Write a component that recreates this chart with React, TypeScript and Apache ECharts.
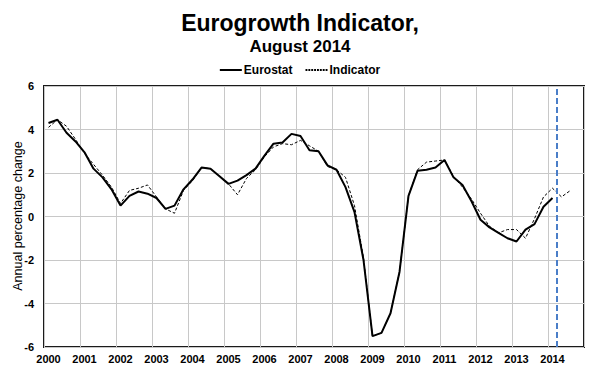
import React, { useEffect, useRef } from "react";
import * as echarts from "echarts";

const TITLE = "Eurogrowth Indicator,";
const SUBTITLE = "August 2014";
const Y_NAME = "Annual percentage change";
const YEARS = [2000, 2001, 2002, 2003, 2004, 2005, 2006, 2007, 2008, 2009, 2010, 2011, 2012, 2013, 2014];
const QUARTERS = ["Q1", "Q2", "Q3", "Q4"];
const CATEGORIES = YEARS.flatMap((y) => QUARTERS.map((q) => `${y}${q}`));

// Annual percentage change, quarterly, 2000Q1 ...
const EUROSTAT = [
  4.3, 4.45, 3.85, 3.45,
  2.95, 2.2, 1.8, 1.25,
  0.5, 0.95, 1.15, 1.05,
  0.85, 0.35, 0.5, 1.25,
  1.7, 2.25, 2.2, 1.85,
  1.5, 1.65, 1.9, 2.2,
  2.8, 3.35, 3.4, 3.8,
  3.7, 3.05, 3.0, 2.35,
  2.15, 1.35, 0.2, -2.0,
  -5.5, -5.35, -4.45, -2.55,
  0.95, 2.1, 2.15, 2.25,
  2.6, 1.8, 1.45, 0.7,
  -0.15, -0.5, -0.75, -1.0,
  -1.15, -0.6, -0.35, 0.45,
  0.85,
];

const INDICATOR = [
  4.1, 4.45, 4.15, 3.55,
  2.9, 2.4, 1.9, 1.35,
  0.6, 1.2, 1.3, 1.45,
  0.9, 0.35, 0.15, 1.2,
  1.65, 2.25, 2.2, 1.85,
  1.5, 1.0, 1.75, 2.15,
  2.75, 3.2, 3.35, 3.3,
  3.5, 3.25, 3.0, 2.3,
  2.15, 1.8, 0.5, -1.9,
  -5.5, -5.35, -4.45, -2.55,
  0.95, 2.15, 2.5, 2.55,
  2.6, 1.85, 1.35, 0.8,
  0.15, -0.45, -0.75, -0.6,
  -0.6, -1.0, -0.1, 0.9,
  1.3, 0.9, 1.2,
];

// Quarter boundary (index in quarters from 2000Q1) where the latest Eurostat release ends
const RELEASE_BOUNDARY = 57;

const FONT = "Liberation Sans, Arial, sans-serif";

const SOLID_ICON = "path://M0,0h24v2h-24z";
const DASH_ICON =
  "path://M0,0h2v1h-2zM3,0h2v1h-2zM6,0h2v1h-2zM9,0h2v1h-2zM12,0h2v1h-2zM15,0h2v1h-2zM18,0h2v1h-2zM21,0h2v1h-2z";

export default function App() {
  const ref = useRef<HTMLDivElement>(null);

  useEffect(() => {
    if (!ref.current) return;
    const chart = echarts.init(ref.current, undefined, { renderer: "svg" });
    chart.setOption({
      animation: false,
      backgroundColor: "#ffffff",
      textStyle: { fontFamily: FONT },
      title: [
        {
          text: TITLE,
          left: "center",
          top: 6,
          textStyle: { fontFamily: FONT, fontSize: 23, fontWeight: "bold", color: "#000" },
        },
        {
          text: SUBTITLE,
          left: "center",
          top: 33,
          textStyle: { fontFamily: FONT, fontSize: 17, fontWeight: "bold", color: "#000" },
        },
      ],
      legend: {
        data: [
          { name: "Eurostat", icon: SOLID_ICON, itemStyle: { color: "#000" } },
          { name: "Indicator", icon: DASH_ICON, itemStyle: { color: "#000" } },
        ],
        top: 59,
        left: "center",
        itemWidth: 22,
        itemHeight: 2,
        symbolKeepAspect: false,
        itemGap: 13,
        textStyle: { fontFamily: FONT, fontSize: 12, fontWeight: "bold", color: "#000", padding: [0, 0, 0, -3] },
      },
      graphic: [
        {
          type: "text",
          x: 18,
          y: 216,
          rotation: Math.PI / 2,
          style: {
            text: Y_NAME,
            fontFamily: FONT,
            fontSize: 12.5,
            fill: "#000",
            textAlign: "center",
            textVerticalAlign: "middle",
          },
        },
      ],
      grid: {
        left: 44,
        right: 16,
        top: 86,
        bottom: 23,
        containLabel: false,
        outerBoundsMode: "none",
        show: true,
        borderColor: "#1a1a1a",
        borderWidth: 2,
        backgroundColor: "transparent",
      },
      xAxis: [
        {
          type: "category",
          data: CATEGORIES,
          boundaryGap: true,
          axisLine: { show: false },
          axisTick: { show: false, interval: 3 },
          axisLabel: {
            interval: 3,
            formatter: (v: string) => v.slice(0, 4),
            fontFamily: FONT,
            fontSize: 11,
            fontWeight: "bold",
            color: "#000",
            margin: 6,
          },
          splitLine: { show: true, interval: 3, lineStyle: { color: "#c8c8c8", width: 1 } },
        },
        { type: "value", min: 0, max: 60, show: false },
      ],
      yAxis: {
        type: "value",
        min: -6,
        max: 6,
        interval: 2,
        axisLine: { show: false },
        axisTick: { show: false },
        axisLabel: { fontFamily: FONT, fontSize: 11, fontWeight: "bold", color: "#000", margin: 10 },
        splitLine: { show: true, lineStyle: { color: "#c8c8c8", width: 1 } },
      },
      series: [
        {
          name: "Indicator",
          type: "line",
          data: INDICATOR,
          symbol: "none",
          lineStyle: { color: "#000", width: 1, type: [3, 2] },
          itemStyle: { color: "#000" },
          z: 3,
        },
        {
          name: "Eurostat",
          type: "line",
          data: EUROSTAT,
          symbol: "none",
          lineStyle: { color: "#000", width: 2 },
          itemStyle: { color: "#000" },
          z: 4,
        },
        {
          name: "release",
          type: "line",
          xAxisIndex: 1,
          data: [],
          markLine: {
            silent: true,
            symbol: "none",
            label: { show: false },
            lineStyle: { color: "#4a7ec8", width: 2, type: [6, 3] },
            data: [{ xAxis: RELEASE_BOUNDARY }],
          },
        },
      ],
    });
    return () => chart.dispose();
  }, []);

  return (
    <div
      ref={ref}
      style={{ position: "fixed", left: 0, top: 0, width: 600, height: 370, background: "#fff" }}
    />
  );
}
